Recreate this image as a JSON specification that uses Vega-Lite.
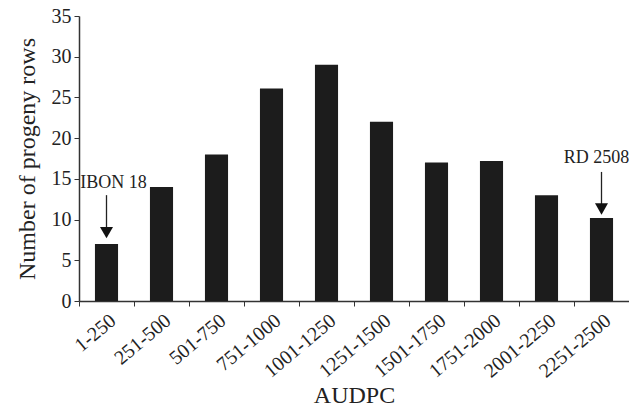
{
  "$schema": "https://vega.github.io/schema/vega-lite/v6.json",
  "width": 550,
  "height": 285,
  "autosize": {"type": "none"},
  "padding": {"left": 79, "top": 16, "right": 0, "bottom": 105},
  "background": "white",
  "config": {
    "view": {"stroke": null},
    "font": "Liberation Serif",
    "axis": {
      "labelFont": "Liberation Serif",
      "titleFont": "Liberation Serif",
      "labelColor": "#222",
      "titleColor": "#222",
      "domainColor": "#333",
      "tickColor": "#333",
      "grid": false,
      "titleFontWeight": "normal"
    }
  },
  "datasets": {
    "bars": [
      {"AUDPC": "1-250", "rows": 7},
      {"AUDPC": "251-500", "rows": 14},
      {"AUDPC": "501-750", "rows": 18},
      {"AUDPC": "751-1000", "rows": 26.1},
      {"AUDPC": "1001-1250", "rows": 29},
      {"AUDPC": "1251-1500", "rows": 22},
      {"AUDPC": "1501-1750", "rows": 17},
      {"AUDPC": "1751-2000", "rows": 17.2},
      {"AUDPC": "2001-2250", "rows": 13},
      {"AUDPC": "2251-2500", "rows": 10.2}
    ],
    "notes": [
      {"AUDPC": "1-250", "label": "IBON 18", "textY": 14.5, "top": 13.0, "bottom": 8.8, "head": 8.4},
      {"AUDPC": "2251-2500", "label": "RD 2508", "textY": 17.55, "top": 15.85, "bottom": 11.7, "head": 11.3}
    ]
  },
  "layer": [
    {
      "data": {"name": "bars"},
      "mark": {"type": "bar", "color": "#1c1c1c", "width": {"band": 0.42}},
      "encoding": {
        "x": {
          "field": "AUDPC",
          "type": "nominal",
          "sort": null,
          "scale": {"paddingInner": 0, "paddingOuter": 0},
          "axis": {
            "title": "AUDPC",
            "titleFontSize": 24,
            "titleBaseline": "top",
            "titleY": 82,
            "labelFontSize": 20,
            "labelAngle": -40,
            "labelAlign": "right",
            "labelBaseline": "top",
            "labelPadding": 4,
            "tickBand": "extent",
            "tickSize": 5,
            "domainWidth": 1.5
          }
        },
        "y": {
          "field": "rows",
          "type": "quantitative",
          "scale": {"domain": [0, 35], "nice": false},
          "axis": {
            "title": "Number of progeny rows",
            "titleFontSize": 24,
            "titlePadding": 12,
            "labelFontSize": 20,
            "values": [0, 5, 10, 15, 20, 25, 30, 35],
            "tickSize": 5,
            "labelPadding": 3,
            "domainWidth": 1.5
          }
        }
      }
    },
    {
      "data": {"name": "notes"},
      "mark": {"type": "rule", "color": "#222", "strokeWidth": 1.3},
      "encoding": {
        "x": {"field": "AUDPC", "type": "nominal", "sort": null},
        "y": {"field": "top", "type": "quantitative"},
        "y2": {"field": "bottom"}
      }
    },
    {
      "data": {"name": "notes"},
      "mark": {"type": "point", "shape": "triangle-down", "filled": true, "color": "#111", "size": 170, "opacity": 1},
      "encoding": {
        "x": {"field": "AUDPC", "type": "nominal", "sort": null},
        "y": {"field": "head", "type": "quantitative"}
      }
    },
    {
      "data": {"name": "notes"},
      "transform": [{"filter": "datum.label == 'IBON 18'"}],
      "mark": {"type": "text", "font": "Liberation Serif", "fontSize": 18, "color": "#222", "baseline": "middle", "align": "center", "dx": 7},
      "encoding": {
        "x": {"field": "AUDPC", "type": "nominal", "sort": null},
        "y": {"field": "textY", "type": "quantitative"},
        "text": {"field": "label"}
      }
    },
    {
      "data": {"name": "notes"},
      "transform": [{"filter": "datum.label == 'RD 2508'"}],
      "mark": {"type": "text", "font": "Liberation Serif", "fontSize": 18, "color": "#222", "baseline": "middle", "align": "center", "dx": -5},
      "encoding": {
        "x": {"field": "AUDPC", "type": "nominal", "sort": null},
        "y": {"field": "textY", "type": "quantitative"},
        "text": {"field": "label"}
      }
    }
  ]
}
